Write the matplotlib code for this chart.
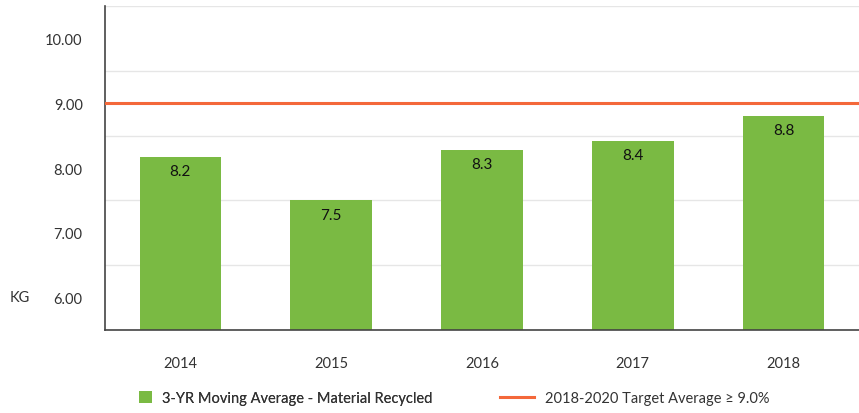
import matplotlib.pyplot as plt
import numpy as np
from matplotlib.lines import Line2D
from matplotlib.patches import Patch

plt.rcParams["font.family"] = ["Lato", "DejaVu Sans"]

years = ["2014", "2015", "2016", "2017", "2018"]
moving_avg = [8.17, 7.5, 8.28, 8.42, 8.8]
bar_labels = ["8.2", "7.5", "8.3", "8.4", "8.8"]
target = 9.0
y_ticks = [6, 7, 8, 9, 10]
grid_lines = [5.5, 6.5, 7.5, 8.5, 9.5, 10.5]

GREEN = "#7aba43"
ORANGE = "#f4683a"
TEXT = "#333333"

fig = plt.figure(figsize=(8.59, 4.14), dpi=100)
ax = fig.add_axes([0.1222, 0.2005, 0.8778, 0.7825])

x = np.arange(len(years))
ax.bar(x, moving_avg, width=0.54, color=GREEN, zorder=2)
for xi, v, lab in zip(x, moving_avg, bar_labels):
    ax.text(xi, v - 0.22, lab, ha="center", va="center", fontsize=11, color="#111111", zorder=3)

ax.axhline(target, color=ORANGE, linewidth=2.2, zorder=3)

ax.set_ylim(5.5, 10.5)
ax.set_xlim(-0.5, len(years) - 0.5)
ax.set_yticks(y_ticks)
ax.set_yticklabels([f"{t:.2f}" for t in y_ticks])
ax.set_yticks(grid_lines, minor=True)
ax.grid(which="minor", axis="y", color="#e6e6e6", linewidth=1, zorder=0)
ax.tick_params(axis="y", which="both", length=0, pad=16, labelsize=10.5, labelcolor=TEXT)
ax.tick_params(axis="x", length=0, pad=19, labelsize=10.5, labelcolor=TEXT)
ax.set_xticks(x)
ax.set_xticklabels(years)

for side in ["top", "right"]:
    ax.spines[side].set_visible(False)
for side in ["left", "bottom"]:
    ax.spines[side].set_color("#444444")
    ax.spines[side].set_linewidth(1.2)

fig.text(10 / 859, 1 - 298 / 414, "KG", ha="left", va="center", fontsize=10.5, color=TEXT)

# two separate legend entries so the swatch and the line can differ in length
leg_bar = fig.legend(
    [Patch(facecolor=GREEN, edgecolor="none")],
    ["3-YR Moving Average - Material Recycled"],
    loc="center left",
    bbox_to_anchor=(126 / 859, 1 - 399 / 414),
    frameon=False,
    fontsize=10.5,
    handlelength=0.85,
    handleheight=0.85,
    handletextpad=0.7,
    labelcolor=TEXT,
)
fig.legend(
    [Line2D([0], [0], color=ORANGE, linewidth=2.2)],
    ["2018-2020 Target Average \u2265 9.0%"],
    loc="center left",
    bbox_to_anchor=(487 / 859, 1 - 399 / 414),
    frameon=False,
    fontsize=10.5,
    handlelength=2.3,
    handletextpad=0.8,
    labelcolor=TEXT,
)
fig.add_artist(leg_bar)

fig.savefig("out.png", dpi=100)
